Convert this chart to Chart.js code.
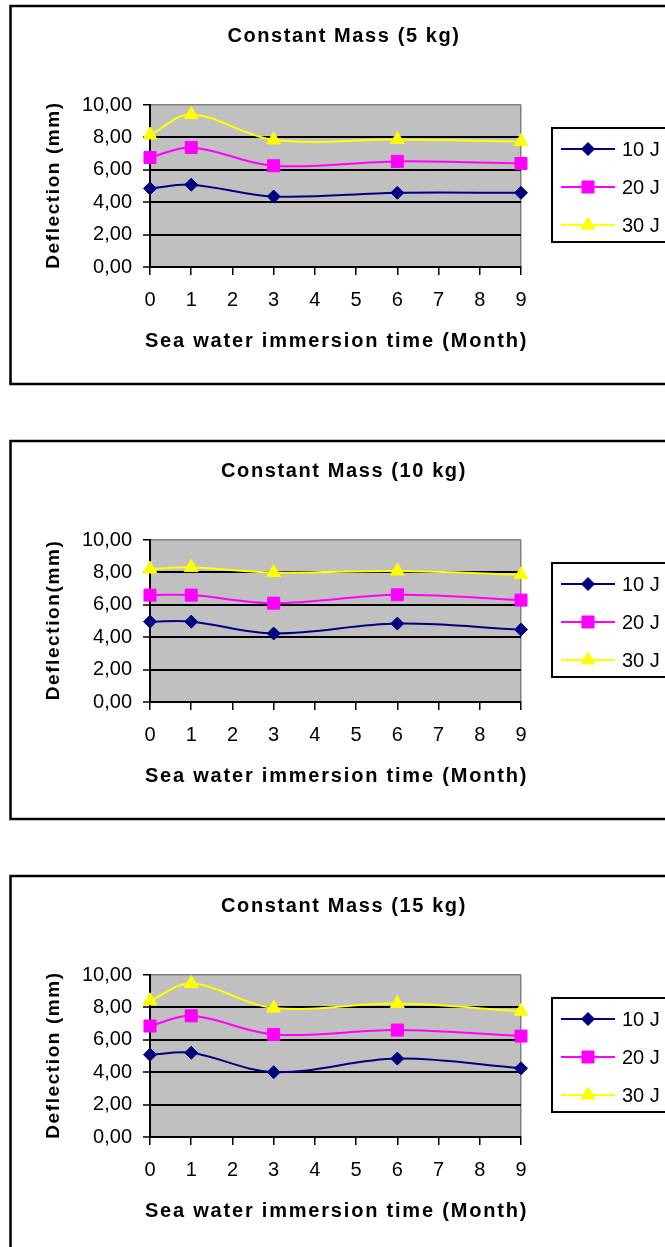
<!DOCTYPE html>
<html>
<head>
<meta charset="utf-8">
<title>Deflection vs sea water immersion time</title>
<script src="https://cdn.jsdelivr.net/npm/chart.js@4.4.1/dist/chart.umd.min.js"></script>
<style>
  html, body { margin: 0; padding: 0; background: #fff; overflow: hidden; }
  body { width: 665px; height: 1247px; position: relative; }
  canvas { position: absolute; left: 0; }
</style>
</head>
<body>
<canvas id="mass5" width="665" height="382" style="top:4px;width:665px;height:382px"></canvas>
<canvas id="mass10" width="665" height="382" style="top:439px;width:665px;height:382px"></canvas>
<canvas id="mass15" width="665" height="382" style="top:874px;width:665px;height:382px"></canvas>
<script>
// Immersion time in months (x values shared by every series)
const months = [0, 1, 3, 6, 9];
const seriesLabels = ['10 J', '20 J', '30 J'];
const yTickLabels = ['0,00', '2,00', '4,00', '6,00', '8,00', '10,00'];

// Deflection (mm), constant mass 5 kg
const mass5_10J = [4.85, 5.08, 4.35, 4.58, 4.58];
const mass5_20J = [6.76, 7.38, 6.25, 6.52, 6.39];
const mass5_30J = [8.15, 9.41, 7.85, 7.87, 7.74];

// Deflection (mm), constant mass 10 kg
const mass10_10J = [4.96, 4.96, 4.23, 4.84, 4.47];
const mass10_20J = [6.60, 6.60, 6.10, 6.62, 6.29];
const mass10_30J = [8.21, 8.31, 7.99, 8.09, 7.86];

// Deflection (mm), constant mass 15 kg
const mass15_10J = [5.08, 5.20, 4.00, 4.84, 4.24];
const mass15_20J = [6.85, 7.48, 6.33, 6.60, 6.23];
const mass15_30J = [8.41, 9.47, 7.96, 8.24, 7.76];

const FONT = "'Liberation Sans', Arial, Helvetica, sans-serif";
const OFF = 2; // frame top inside each canvas

const seriesStyles = [
  { color: '#000080', pointStyle: 'rectRot', radius: 6.5 },
  { color: '#ff00ff', pointStyle: 'rect', radius: 8.5 },
  { color: '#ffff00', pointStyle: 'triangle', radius: 8 }
];

// Frame, grey plot background, titles with spaced lettering and boxed legend
const excelFrame = {
  id: 'excelFrame',
  beforeDraw(chart) {
    const { ctx, chartArea: a } = chart;
    ctx.save();
    ctx.fillStyle = '#c0c0c0';
    ctx.fillRect(a.left, a.top, a.right - a.left, a.bottom - a.top);
    ctx.strokeStyle = '#000';
    ctx.lineWidth = 2.5;
    ctx.strokeRect(10.5, OFF, 720, 378);
    ctx.restore();
  },
  afterDraw(chart, args, opts) {
    const ctx = chart.ctx;
    const a = chart.chartArea;
    ctx.save();
    ctx.fillStyle = '#000';
    ctx.textBaseline = 'middle';
    ctx.textAlign = 'center';

    ctx.font = 'bold 20px ' + FONT;
    ctx.letterSpacing = '1.6px';
    ctx.fillText(opts.title, 344, OFF + 30);

    ctx.letterSpacing = '1.8px';
    ctx.fillText(opts.xTitle, (a.left + a.right) / 2 + 1, OFF + 335);

    ctx.save();
    ctx.translate(54, (a.top + a.bottom) / 2);
    ctx.rotate(-Math.PI / 2);
    ctx.font = 'bold 19px ' + FONT;
    ctx.letterSpacing = '1.6px';
    ctx.fillText(opts.yTitle, 1, 0);
    ctx.restore();

    // legend box
    const lx = 552, ly = OFF + 122;
    ctx.letterSpacing = '0px';
    ctx.fillStyle = '#fff';
    ctx.fillRect(lx, ly, 200, 114);
    ctx.strokeStyle = '#000';
    ctx.lineWidth = 2;
    ctx.strokeRect(lx, ly, 200, 114);
    chart.data.datasets.forEach((ds, i) => {
      const y = ly + 21 + i * 38;
      ctx.strokeStyle = ds.borderColor;
      ctx.lineWidth = 2;
      ctx.beginPath();
      ctx.moveTo(561, y);
      ctx.lineTo(615, y);
      ctx.stroke();
      ctx.fillStyle = ds.pointBackgroundColor;
      ctx.strokeStyle = ds.pointBorderColor;
      ctx.lineWidth = 1;
      Chart.helpers.drawPoint(ctx, { pointStyle: ds.pointStyle, radius: ds.pointRadius, rotation: 0, borderWidth: 1 }, 588, y);
      ctx.fillStyle = '#000';
      ctx.font = '20px ' + FONT;
      ctx.textAlign = 'left';
      ctx.fillText(ds.label, 622, y + 1);
    });
    ctx.restore();
  }
};

function makeChart(id, title, yTitle, seriesValues) {
  const datasets = seriesValues.map((vals, i) => {
    const st = seriesStyles[i];
    return {
      label: seriesLabels[i],
      data: months.map((m, k) => ({ x: m, y: vals[k] })),
      borderColor: st.color,
      backgroundColor: st.color,
      borderWidth: 2,
      tension: 0.35,
      pointStyle: st.pointStyle,
      pointRadius: st.radius,
      pointBackgroundColor: st.color,
      pointBorderColor: st.color,
      pointBorderWidth: 1,
      clip: false
    };
  });
  return new Chart(document.getElementById(id), {
    type: 'line',
    data: { datasets },
    options: {
      responsive: false,
      animation: false,
      devicePixelRatio: 1,
      events: [],
      layout: { padding: { left: 10, right: 144, top: OFF + 99, bottom: 0 } },
      plugins: {
        legend: { display: false },
        tooltip: { enabled: false },
        title: { display: false },
        excelFrame: { title, yTitle, xTitle: 'Sea water immersion time (Month)' }
      },
      scales: {
        x: {
          type: 'linear',
          min: 0,
          max: 9,
          ticks: { stepSize: 1, padding: 13, color: '#000', font: { family: FONT, size: 20 } },
          grid: {
            color: c => (c.tick && c.tick.value === 9) ? '#808080' : 'rgba(0,0,0,0)',
            lineWidth: 1.5,
            tickColor: '#000',
            tickLength: 8,
            tickWidth: 1.5
          },
          border: { color: '#000', width: 2 },
          afterFit: s => { s.height = 119; }
        },
        y: {
          min: 0,
          max: 10,
          ticks: {
            stepSize: 2,
            padding: 11,
            color: '#000',
            font: { family: FONT, size: 20 },
            callback: (v, i) => yTickLabels[i]
          },
          grid: {
            color: c => (c.tick && c.tick.value === 10) ? '#808080' : '#000',
            lineWidth: c => (c.tick && c.tick.value === 10) ? 1.5 : 2,
            tickColor: '#000',
            tickLength: 7,
            tickWidth: 1.5
          },
          border: { color: '#000', width: 2 },
          afterFit: s => { s.width = 140; }
        }
      }
    },
    plugins: [excelFrame]
  });
}

makeChart('mass5', 'Constant Mass (5 kg)', 'Deflection (mm)', [mass5_10J, mass5_20J, mass5_30J]);
makeChart('mass10', 'Constant Mass (10 kg)', 'Deflection(mm)', [mass10_10J, mass10_20J, mass10_30J]);
makeChart('mass15', 'Constant Mass (15 kg)', 'Deflection (mm)', [mass15_10J, mass15_20J, mass15_30J]);
</script>
</body>
</html>
